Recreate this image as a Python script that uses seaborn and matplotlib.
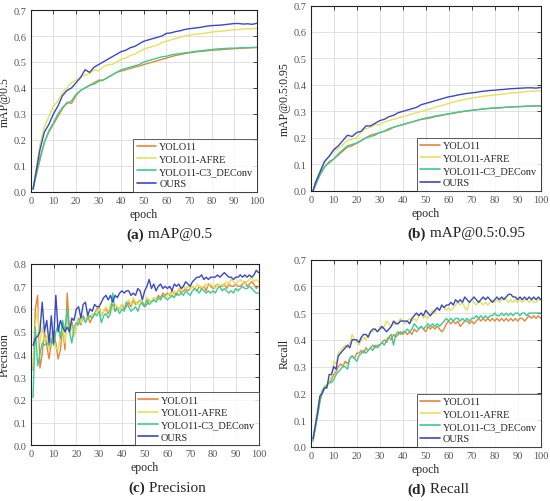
import numpy as np
import pandas as pd
import matplotlib
matplotlib.use("Agg")
import matplotlib.pyplot as plt
import seaborn as sns

# ── data ─────────────────────────────────────────────────────────────────────
MODELS = ["YOLO11", "YOLO11-AFRE", "YOLO11-C3_DEConv", "OURS"]
COLORS = ["#E4873C", "#E3E25C", "#3CCB95", "#3A49C4"]

EPOCHS_MAP = [1] + list(range(2, 101, 2))
EPOCHS_ALL = list(range(1, 101))

map50_yolo = [0.01, 0.05, 0.12, 0.19, 0.23, 0.26, 0.29, 0.32, 0.345, 0.34, 0.37, 0.39, 0.40, 0.41, 0.42,
              0.43, 0.43, 0.44, 0.45, 0.46, 0.465, 0.47, 0.475, 0.48, 0.485, 0.49, 0.495, 0.50, 0.505,
              0.51, 0.515, 0.52, 0.525, 0.528, 0.532, 0.535, 0.537, 0.54, 0.541, 0.543, 0.545, 0.546,
              0.547, 0.549, 0.55, 0.551, 0.552, 0.553, 0.554, 0.555, 0.556]
map50_afre = [0.01, 0.07, 0.18, 0.25, 0.29, 0.33, 0.35, 0.38, 0.40, 0.42, 0.43, 0.44, 0.45, 0.455, 0.47,
              0.465, 0.48, 0.49, 0.49, 0.50, 0.51, 0.515, 0.525, 0.53, 0.54, 0.55, 0.555, 0.56, 0.565,
              0.575, 0.58, 0.585, 0.59, 0.595, 0.60, 0.603, 0.606, 0.608, 0.61, 0.612, 0.615, 0.617,
              0.619, 0.62, 0.622, 0.624, 0.625, 0.627, 0.628, 0.628, 0.63]
map50_dec = [0.01, 0.05, 0.13, 0.19, 0.235, 0.265, 0.30, 0.325, 0.34, 0.35, 0.375, 0.39, 0.40, 0.41, 0.415,
             0.425, 0.43, 0.44, 0.45, 0.46, 0.47, 0.475, 0.48, 0.485, 0.49, 0.50, 0.505, 0.51, 0.515,
             0.52, 0.522, 0.527, 0.53, 0.532, 0.535, 0.537, 0.54, 0.542, 0.544, 0.546, 0.548, 0.55,
             0.551, 0.552, 0.553, 0.553, 0.554, 0.555, 0.555, 0.556, 0.556]
map50_ours = [0.01, 0.06, 0.16, 0.23, 0.26, 0.30, 0.33, 0.37, 0.39, 0.40, 0.42, 0.44, 0.47, 0.46, 0.48,
              0.49, 0.50, 0.51, 0.52, 0.53, 0.54, 0.545, 0.555, 0.56, 0.57, 0.58, 0.585, 0.59, 0.595,
              0.60, 0.61, 0.612, 0.617, 0.62, 0.625, 0.628, 0.63, 0.632, 0.635, 0.638, 0.64, 0.641,
              0.642, 0.644, 0.646, 0.648, 0.648, 0.646, 0.647, 0.645, 0.649]

map95_yolo = [0.0, 0.02, 0.06, 0.09, 0.11, 0.12, 0.135, 0.15, 0.165, 0.17, 0.18, 0.19, 0.20, 0.21, 0.215,
              0.22, 0.225, 0.23, 0.24, 0.245, 0.25, 0.255, 0.26, 0.265, 0.27, 0.272, 0.275, 0.28, 0.283,
              0.287, 0.29, 0.293, 0.296, 0.299, 0.302, 0.304, 0.306, 0.308, 0.31, 0.311, 0.312, 0.313,
              0.315, 0.316, 0.317, 0.318, 0.318, 0.319, 0.32, 0.32, 0.321]
map95_afre = [0.0, 0.03, 0.075, 0.115, 0.13, 0.15, 0.16, 0.175, 0.19, 0.195, 0.20, 0.225, 0.235, 0.24, 0.25,
              0.25, 0.26, 0.265, 0.27, 0.275, 0.28, 0.285, 0.29, 0.295, 0.30, 0.305, 0.31, 0.315, 0.32,
              0.325, 0.33, 0.335, 0.34, 0.343, 0.347, 0.35, 0.353, 0.356, 0.358, 0.36, 0.362, 0.364,
              0.366, 0.368, 0.37, 0.371, 0.373, 0.375, 0.376, 0.377, 0.378]
map95_dec = [0.0, 0.02, 0.06, 0.09, 0.105, 0.12, 0.14, 0.155, 0.17, 0.175, 0.18, 0.19, 0.20, 0.205, 0.21,
             0.22, 0.225, 0.235, 0.24, 0.245, 0.25, 0.255, 0.26, 0.265, 0.27, 0.275, 0.278, 0.282, 0.285,
             0.288, 0.291, 0.294, 0.297, 0.30, 0.302, 0.304, 0.306, 0.308, 0.31, 0.312, 0.313, 0.314,
             0.315, 0.316, 0.317, 0.318, 0.319, 0.32, 0.32, 0.321, 0.321]
map95_ours = [0.0, 0.03, 0.07, 0.11, 0.13, 0.155, 0.17, 0.19, 0.21, 0.205, 0.22, 0.225, 0.245, 0.245, 0.255,
              0.265, 0.27, 0.28, 0.285, 0.295, 0.30, 0.305, 0.31, 0.315, 0.325, 0.33, 0.335, 0.34, 0.345,
              0.35, 0.355, 0.358, 0.362, 0.365, 0.368, 0.37, 0.372, 0.375, 0.377, 0.379, 0.38, 0.382,
              0.383, 0.385, 0.386, 0.387, 0.388, 0.389, 0.389, 0.388, 0.39]

prec_yolo = [0.33, 0.60, 0.66, 0.34, 0.40, 0.50, 0.44, 0.38, 0.45, 0.50, 0.45, 0.38, 0.42, 0.52, 0.42,
             0.67, 0.50, 0.55, 0.48, 0.52, 0.56, 0.53, 0.57, 0.55, 0.57, 0.54, 0.56, 0.58, 0.60, 0.61,
             0.57, 0.59, 0.60, 0.58, 0.60, 0.62, 0.59, 0.61, 0.60, 0.62, 0.60, 0.61, 0.63, 0.61, 0.64,
             0.62, 0.63, 0.64, 0.62, 0.61, 0.62, 0.64, 0.63, 0.65, 0.64, 0.66, 0.65, 0.67, 0.66, 0.67,
             0.66, 0.68, 0.67, 0.66, 0.69, 0.67, 0.68, 0.69, 0.68, 0.69, 0.70, 0.69, 0.68, 0.70, 0.69,
             0.70, 0.68, 0.71, 0.70, 0.69, 0.70, 0.71, 0.70, 0.70, 0.71, 0.69, 0.71, 0.70, 0.70, 0.71,
             0.70, 0.70, 0.71, 0.72, 0.70, 0.71, 0.72, 0.71, 0.69, 0.70]
prec_afre = [0.35, 0.53, 0.60, 0.45, 0.52, 0.46, 0.48, 0.42, 0.50, 0.47, 0.43, 0.42, 0.48, 0.52, 0.45,
             0.56, 0.49, 0.52, 0.48, 0.52, 0.55, 0.54, 0.56, 0.55, 0.57, 0.56, 0.58, 0.57, 0.59, 0.60,
             0.57, 0.59, 0.61, 0.59, 0.62, 0.60, 0.62, 0.61, 0.60, 0.62, 0.61, 0.63, 0.64, 0.62, 0.65,
             0.63, 0.62, 0.64, 0.63, 0.62, 0.65, 0.64, 0.63, 0.65, 0.64, 0.65, 0.64, 0.66, 0.65, 0.66,
             0.67, 0.65, 0.68, 0.67, 0.69, 0.68, 0.70, 0.69, 0.70, 0.69, 0.70, 0.69, 0.71, 0.70, 0.69,
             0.70, 0.71, 0.70, 0.71, 0.70, 0.69, 0.71, 0.70, 0.71, 0.70, 0.72, 0.71, 0.73, 0.72, 0.71,
             0.72, 0.73, 0.72, 0.71, 0.72, 0.73, 0.74, 0.72, 0.73, 0.72]
prec_dec = [0.21, 0.52, 0.35, 0.40, 0.45, 0.44, 0.45, 0.44, 0.47, 0.44, 0.50, 0.53, 0.47, 0.55, 0.50,
            0.60, 0.50, 0.45, 0.52, 0.54, 0.53, 0.57, 0.56, 0.54, 0.56, 0.57, 0.56, 0.58, 0.57, 0.59,
            0.54, 0.57, 0.58, 0.56, 0.58, 0.67, 0.59, 0.60, 0.58, 0.60, 0.59, 0.63, 0.61, 0.59, 0.60,
            0.61, 0.59, 0.62, 0.63, 0.61, 0.64, 0.62, 0.63, 0.64, 0.63, 0.65, 0.64, 0.66, 0.65, 0.64,
            0.65, 0.66, 0.65, 0.67, 0.66, 0.67, 0.66, 0.68, 0.67, 0.66, 0.68, 0.69, 0.68, 0.67, 0.69,
            0.68, 0.67, 0.68, 0.67, 0.68, 0.67, 0.69, 0.70, 0.68, 0.69, 0.68, 0.67, 0.68, 0.67, 0.69,
            0.68, 0.69, 0.70, 0.69, 0.69, 0.70, 0.69, 0.68, 0.67, 0.67]
prec_ours = [0.44, 0.47, 0.48, 0.50, 0.63, 0.50, 0.55, 0.45, 0.57, 0.45, 0.66, 0.50, 0.55, 0.52, 0.50,
             0.52, 0.50, 0.56, 0.55, 0.60, 0.61, 0.56, 0.62, 0.63, 0.57, 0.60, 0.59, 0.62, 0.61, 0.61,
             0.63, 0.65, 0.66, 0.64, 0.66, 0.63, 0.66, 0.65, 0.67, 0.68, 0.67, 0.68, 0.68, 0.66, 0.67,
             0.66, 0.69, 0.68, 0.64, 0.68, 0.70, 0.73, 0.69, 0.71, 0.68, 0.70, 0.71, 0.69, 0.70, 0.69,
             0.70, 0.68, 0.71, 0.70, 0.71, 0.69, 0.70, 0.72, 0.71, 0.70, 0.72, 0.73, 0.74, 0.74, 0.75,
             0.73, 0.74, 0.73, 0.74, 0.74, 0.74, 0.75, 0.74, 0.75, 0.76, 0.75, 0.74, 0.74, 0.73, 0.74,
             0.74, 0.75, 0.74, 0.75, 0.74, 0.75, 0.74, 0.75, 0.77, 0.76]

rec_yolo = [0.03, 0.07, 0.12, 0.17, 0.20, 0.22, 0.23, 0.24, 0.25, 0.27, 0.28, 0.30, 0.31, 0.30, 0.32,
            0.31, 0.33, 0.34, 0.33, 0.35, 0.35, 0.36, 0.35, 0.37, 0.36, 0.37, 0.38, 0.37, 0.38, 0.38,
            0.39, 0.40, 0.39, 0.41, 0.40, 0.42, 0.41, 0.42, 0.43, 0.42, 0.43, 0.42, 0.43, 0.42, 0.44,
            0.43, 0.44, 0.45, 0.44, 0.43, 0.45, 0.44, 0.45, 0.44, 0.45, 0.44, 0.43, 0.44, 0.46, 0.47,
            0.46, 0.47, 0.46, 0.47, 0.45, 0.46, 0.47, 0.47, 0.46, 0.47, 0.46, 0.47, 0.48, 0.47, 0.48,
            0.47, 0.48, 0.47, 0.48, 0.47, 0.48, 0.47, 0.48, 0.47, 0.48, 0.47, 0.48, 0.47, 0.48, 0.47,
            0.48, 0.48, 0.47, 0.48, 0.49, 0.48, 0.49, 0.48, 0.49, 0.48]
rec_afre = [0.03, 0.09, 0.15, 0.19, 0.21, 0.23, 0.22, 0.25, 0.26, 0.32, 0.31, 0.35, 0.36, 0.37, 0.38,
            0.37, 0.39, 0.42, 0.40, 0.39, 0.38, 0.40, 0.41, 0.40, 0.42, 0.43, 0.43, 0.44, 0.43, 0.45,
            0.44, 0.45, 0.47, 0.46, 0.45, 0.46, 0.47, 0.46, 0.48, 0.47, 0.46, 0.47, 0.48, 0.47, 0.48,
            0.47, 0.49, 0.50, 0.48, 0.49, 0.48, 0.50, 0.51, 0.50, 0.52, 0.51, 0.53, 0.52, 0.51, 0.52,
            0.51, 0.52, 0.53, 0.54, 0.53, 0.54, 0.52, 0.51, 0.54, 0.55, 0.54, 0.53, 0.54, 0.54, 0.53,
            0.54, 0.53, 0.54, 0.55, 0.54, 0.55, 0.54, 0.55, 0.56, 0.55, 0.54, 0.55, 0.54, 0.55, 0.54,
            0.55, 0.54, 0.55, 0.55, 0.54, 0.55, 0.54, 0.54, 0.55, 0.55]
rec_dec = [0.02, 0.07, 0.12, 0.17, 0.21, 0.22, 0.23, 0.24, 0.24, 0.25, 0.27, 0.28, 0.29, 0.30, 0.30,
           0.29, 0.33, 0.34, 0.33, 0.32, 0.34, 0.35, 0.36, 0.35, 0.36, 0.37, 0.36, 0.38, 0.37, 0.38,
           0.39, 0.38, 0.40, 0.41, 0.42, 0.38, 0.42, 0.43, 0.42, 0.43, 0.43, 0.44, 0.43, 0.44, 0.46,
           0.45, 0.44, 0.45, 0.44, 0.45, 0.46, 0.45, 0.46, 0.45, 0.46, 0.45, 0.46, 0.47, 0.48, 0.47,
           0.48, 0.47, 0.48, 0.48, 0.47, 0.48, 0.47, 0.48, 0.47, 0.48, 0.48, 0.49, 0.48, 0.49, 0.48,
           0.49, 0.48, 0.49, 0.49, 0.50, 0.49, 0.49, 0.50, 0.49, 0.50, 0.49, 0.50, 0.49, 0.50, 0.50,
           0.49, 0.50, 0.50, 0.49, 0.50, 0.50, 0.50, 0.50, 0.50, 0.50]
rec_ours = [0.03, 0.08, 0.13, 0.19, 0.20, 0.22, 0.22, 0.27, 0.27, 0.30, 0.29, 0.34, 0.35, 0.36, 0.37,
            0.38, 0.37, 0.40, 0.40, 0.40, 0.39, 0.41, 0.42, 0.42, 0.41, 0.43, 0.44, 0.44, 0.43, 0.44,
            0.45, 0.44, 0.43, 0.44, 0.45, 0.47, 0.46, 0.46, 0.47, 0.47, 0.47, 0.47, 0.46, 0.48, 0.49,
            0.50, 0.49, 0.50, 0.49, 0.51, 0.50, 0.49, 0.50, 0.51, 0.52, 0.51, 0.53, 0.52, 0.53, 0.53,
            0.54, 0.53, 0.55, 0.54, 0.55, 0.54, 0.56, 0.55, 0.54, 0.55, 0.56, 0.55, 0.54, 0.55, 0.56,
            0.55, 0.56, 0.55, 0.54, 0.55, 0.56, 0.55, 0.56, 0.55, 0.56, 0.57, 0.57, 0.56, 0.56, 0.55,
            0.56, 0.55, 0.56, 0.55, 0.56, 0.55, 0.56, 0.55, 0.56, 0.55]

PANELS = [
    ("mAP@0.5", "(a)", " mAP@0.5", 0.7, EPOCHS_MAP, [map50_yolo, map50_afre, map50_dec, map50_ours]),
    ("mAP@0.5:0.95", "(b)", " mAP@0.5:0.95", 0.7, EPOCHS_MAP, [map95_yolo, map95_afre, map95_dec, map95_ours]),
    ("Precision", "(c)", " Precision", 0.8, EPOCHS_ALL, [prec_yolo, prec_afre, prec_dec, prec_ours]),
    ("Recall", "(d)", " Recall", 0.7, EPOCHS_ALL, [rec_yolo, rec_afre, rec_dec, rec_ours]),
]

# axes boxes in figure fractions (left, bottom, width, height)
BOXES = [
    (0.056, 0.616, 0.411, 0.362),
    (0.565, 0.618, 0.418, 0.369),
    (0.056, 0.111, 0.414, 0.362),
    (0.565, 0.108, 0.418, 0.373),
]

# ── plot ────────────────────────────────────────────────────────────────────
sns.set_theme(style="white")
plt.rcParams["font.family"] = ["Liberation Serif", "DejaVu Serif"]
plt.rcParams["axes.linewidth"] = 0.8

fig = plt.figure(figsize=(5.5, 5.02), dpi=100)
palette = dict(zip(MODELS, COLORS))

for (ylab, tag, cap, ymax, epochs, series), box in zip(PANELS, BOXES):
    ax = fig.add_axes(box)
    frames = [pd.DataFrame({"epoch": epochs, "value": vals, "model": m})
              for m, vals in zip(MODELS, series)]
    df = pd.concat(frames, ignore_index=True)
    sns.lineplot(data=df, x="epoch", y="value", hue="model", hue_order=MODELS,
                 palette=palette, linewidth=1.0, ax=ax, legend=False)

    ax.set_xlim(0, 100)
    ax.set_ylim(0, ymax)
    ax.set_xticks(np.arange(0, 101, 10))
    ax.set_yticks(np.arange(0, ymax + 0.01, 0.1))
    ax.set_yticklabels([f"{v:.1f}" for v in np.arange(0, ymax + 0.01, 0.1)])
    ax.grid(True, color="#dcdcdc", linewidth=0.6)
    ax.tick_params(direction="in", length=3, width=0.6, labelsize=7.5,
                   labelcolor="#555555", top=True, right=True, pad=3)
    for s in ax.spines.values():
        s.set_color("#222222")
        s.set_visible(True)
    ax.set_xlabel("epoch", fontsize=8.5, labelpad=2)
    ax.set_ylabel(ylab, fontsize=8.5, labelpad=2)

    handles = [plt.Line2D([], [], color=c, lw=1.2) for c in COLORS]
    leg = ax.legend(handles, MODELS, loc="lower right", fontsize=7.4, frameon=True,
                    fancybox=False, borderaxespad=0, handlelength=1.9,
                    handletextpad=0.3, labelspacing=0.3, borderpad=0.35)
    leg.get_frame().set_edgecolor("#333333")
    leg.get_frame().set_linewidth(0.7)

    x0, y0, w, h = box
    cx = x0 + w / 2
    cy = y0 - 0.084
    fig.text(cx, cy, tag, ha="right", va="center", fontsize=11, fontweight="bold")
    fig.text(cx, cy, cap, ha="left", va="center", fontsize=11)

fig.savefig("out.png", dpi=100)
